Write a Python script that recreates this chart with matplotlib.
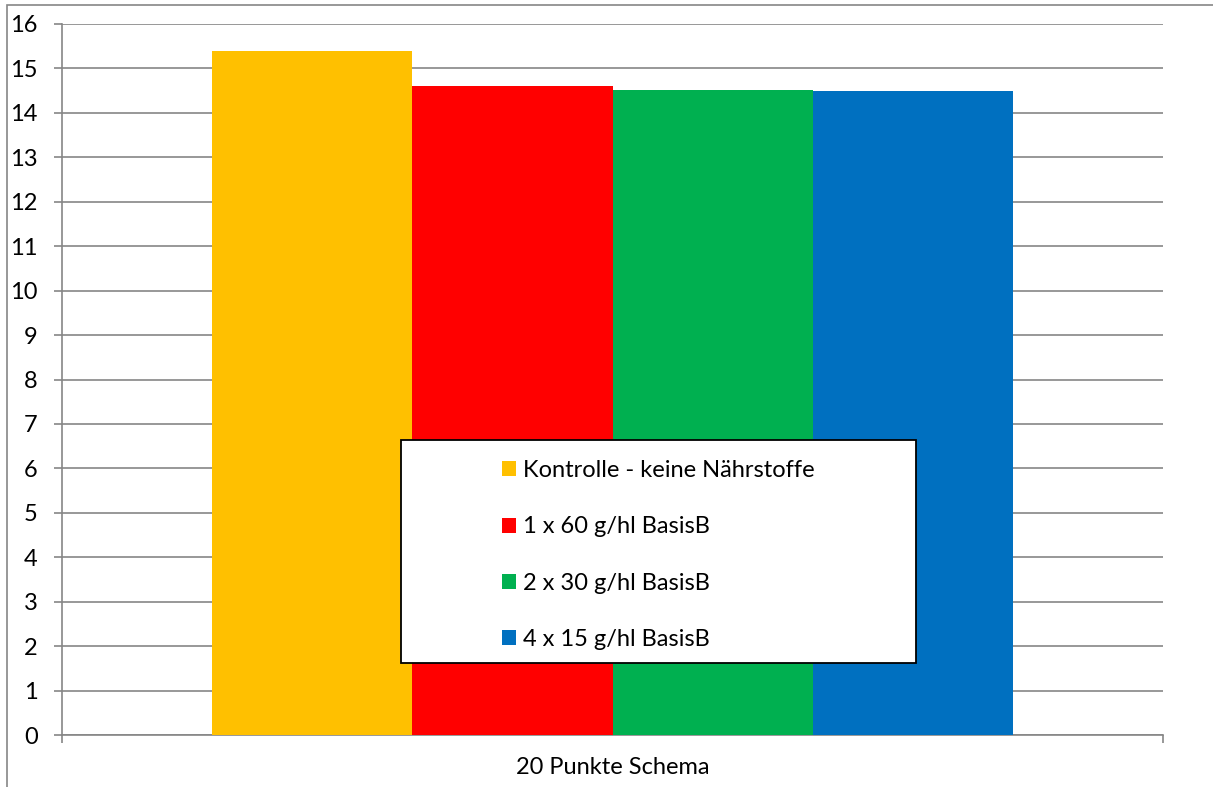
import matplotlib.pyplot as plt
from matplotlib.patches import Rectangle
import numpy as np

# data
categories = ["20 Punkte Schema"]
series_names = [
    "Kontrolle - keine Nährstoffe",
    "1 x 60 g/hl BasisB",
    "2 x 30 g/hl BasisB",
    "4 x 15 g/hl BasisB",
]
values = [15.39, 14.60, 14.51, 14.49]
colors = ["#FFC000", "#FF0000", "#00B050", "#0070C0"]
y_ticks = list(range(0, 17))

W, H = 1213, 787
plt.rcParams["font.family"] = ["Lato", "DejaVu Sans"]

fig = plt.figure(figsize=(W / 100, H / 100), dpi=100)
ax = fig.add_axes([62 / W, 1 - 735 / H, (1163 - 62) / W, (735 - 24) / H])

group_w = 0.728
bar_w = group_w / len(values)
offsets = -group_w / 2 + bar_w / 2 + np.arange(len(values)) * bar_w
for off, v, c, name in zip(offsets, values, colors, series_names):
    ax.bar(off, v, width=bar_w, color=c, label=name, zorder=3, linewidth=0)

ax.set_xlim(-0.5, 0.5)
ax.set_ylim(0, 16)
ax.set_yticks(y_ticks)
ax.yaxis.grid(True, color="#868686", linewidth=1.2, zorder=0)
ax.tick_params(axis="y", length=5.5, color="#868686", width=1.2, pad=12,
               labelsize=17)

ax.set_xticks([0])
ax.set_xticklabels(categories, fontsize=17)
ax.tick_params(axis="x", length=0, pad=16)
ax.set_xticks([-0.5, 0.5], minor=True)
ax.tick_params(axis="x", which="minor", length=6, color="#868686", width=1.2)

for s in ["top", "right"]:
    ax.spines[s].set_visible(False)
for s in ["left", "bottom"]:
    ax.spines[s].set_color("#868686")
    ax.spines[s].set_linewidth(1.2)

# legend box
ax.add_patch(Rectangle((401 / W, 1 - 663 / H), 515 / W, 223 / H,
                       transform=fig.transFigure, facecolor="white",
                       edgecolor="black", linewidth=1.3, zorder=5,
                       clip_on=False))
leg = ax.legend(loc="upper left", bbox_to_anchor=(502 / W, 1 - 460 / H),
                bbox_transform=fig.transFigure, frameon=False, fontsize=17,
                handlelength=0.6, handleheight=0.6, handletextpad=0.3,
                labelspacing=1.5, borderpad=0, borderaxespad=0)
leg.set_zorder(6)

# outer chart border
fig.patches.append(Rectangle((7 / W, -0.05), 1.2, 1 - 5 / H + 0.05,
                             transform=fig.transFigure, fill=False,
                             edgecolor="#868686", linewidth=1.2))

fig.savefig("out.png", dpi=100)
